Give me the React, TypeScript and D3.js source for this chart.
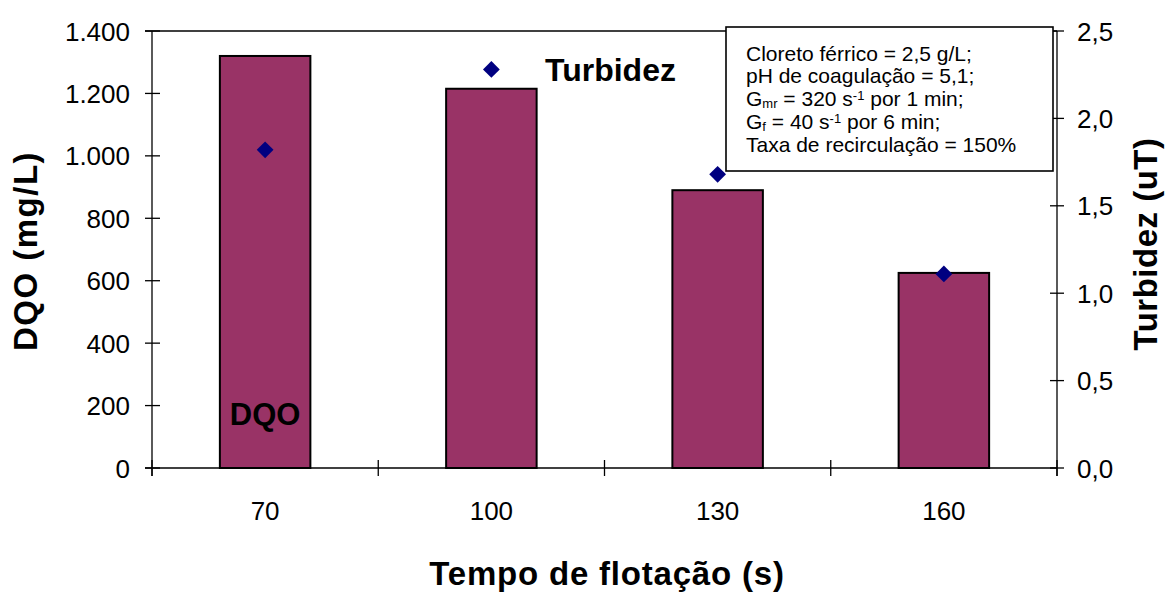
import React from "react";
import * as d3 from "d3";

// Flotation time (s) categories
const categories: string[] = ["70", "100", "130", "160"];
// COD (mg/L) per flotation time — bars
const dqoValues: number[] = [1320, 1215, 890, 625];
// Turbidity (uT) per flotation time — diamonds
const turbidezValues: number[] = [1.82, 2.28, 1.68, 1.11];
// Axis ticks
const leftTicks: number[] = [0, 200, 400, 600, 800, 1000, 1200, 1400];
const rightTicks: number[] = [0, 0.5, 1.0, 1.5, 2.0, 2.5];

const W = 1171;
const H = 592;
const plot = { left: 152, right: 1057, top: 31, bottom: 468 };
const FONT = "'Liberation Sans', Arial, Helvetica, sans-serif";

const fmtLeft = (v: number) =>
  v >= 1000 ? `${Math.floor(v / 1000)}.${String(v % 1000).padStart(3, "0")}` : String(v);
const fmtRight = (v: number) => v.toFixed(1).replace(".", ",");

export default function App() {
  const x = d3
    .scaleBand<string>()
    .domain(categories)
    .range([plot.left, plot.right])
    .paddingInner(0.6)
    .paddingOuter(0.3);
  const step = (plot.right - plot.left) / categories.length;
  const yL = d3.scaleLinear().domain([0, 1400]).range([plot.bottom, plot.top]);
  const yR = d3.scaleLinear().domain([0, 2.5]).range([plot.bottom, plot.top]);

  const diamond = d3.symbol().type(d3.symbolDiamond2).size(180)();

  const boundaries = d3.range(categories.length + 1).map((i) => plot.left + i * step);

  const legendLines = [
    <tspan key="l1">Cloreto férrico = 2,5 g/L;</tspan>,
    <tspan key="l2">pH de coagulação = 5,1;</tspan>,
    <tspan key="l3">
      G<tspan fontSize={13} dy={2}>mr</tspan>
      <tspan dy={-2}> = 320 s</tspan>
      <tspan fontSize={13} dy={-6}>-1</tspan>
      <tspan dy={6}> por 1 min;</tspan>
    </tspan>,
    <tspan key="l4">
      G<tspan fontSize={13} dy={2}>f</tspan>
      <tspan dy={-2}> = 40 s</tspan>
      <tspan fontSize={13} dy={-6}>-1</tspan>
      <tspan dy={6}> por 6 min;</tspan>
    </tspan>,
    <tspan key="l5">Taxa de recirculação = 150%</tspan>,
  ];

  return (
    <svg
      width={W}
      height={H}
      style={{ position: "absolute", left: 0, top: 0, display: "block", background: "#fff" }}
      fontFamily={FONT}
    >
      <rect x={0} y={0} width={W} height={H} fill="#fff" />

      {/* bars: DQO */}
      {categories.map((c, i) => (
        <rect
          key={c}
          x={x(c)}
          y={yL(dqoValues[i])}
          width={x.bandwidth()}
          height={plot.bottom - yL(dqoValues[i])}
          fill="#993366"
          stroke="#000"
          strokeWidth={2}
        />
      ))}

      {/* plot frame top line */}
      <line x1={145} x2={plot.right} y1={plot.top} y2={plot.top} stroke="#000" strokeWidth={1.3} />

      {/* left axis */}
      <line x1={plot.left} x2={plot.left} y1={plot.top} y2={476} stroke="#000" strokeWidth={1.3} />
      {leftTicks.map((t) => (
        <g key={`l${t}`}>
          <line x1={145} x2={160} y1={yL(t)} y2={yL(t)} stroke="#000" strokeWidth={1.3} />
          <text x={130} y={yL(t) + 9.5} textAnchor="end" fontSize={26} fill="#000">
            {fmtLeft(t)}
          </text>
        </g>
      ))}

      {/* right axis */}
      <line x1={plot.right} x2={plot.right} y1={plot.top} y2={476} stroke="#000" strokeWidth={1.3} />
      {rightTicks.map((t) => (
        <g key={`r${t}`}>
          <line x1={1050} x2={1064} y1={yR(t)} y2={yR(t)} stroke="#000" strokeWidth={1.3} />
          <text x={1077} y={yR(t) + 9.5} textAnchor="start" fontSize={26} fill="#000">
            {fmtRight(t)}
          </text>
        </g>
      ))}

      {/* bottom axis */}
      <line x1={145} x2={plot.right} y1={plot.bottom} y2={plot.bottom} stroke="#000" strokeWidth={1.3} />
      {boundaries.map((b, i) => (
        <line key={`b${i}`} x1={b} x2={b} y1={460} y2={476} stroke="#000" strokeWidth={1.3} />
      ))}
      {categories.map((c) => (
        <text
          key={`x${c}`}
          x={(x(c) as number) + x.bandwidth() / 2}
          y={520}
          textAnchor="middle"
          fontSize={26}
          fill="#000"
        >
          {c}
        </text>
      ))}

      {/* diamonds: Turbidez */}
      {categories.map((c, i) => (
        <path
          key={`d${c}`}
          d={diamond as string}
          transform={`translate(${(x(c) as number) + x.bandwidth() / 2},${yR(turbidezValues[i])})`}
          fill="#000080"
        />
      ))}

      {/* series labels */}
      <text x={(x("70") as number) + x.bandwidth() / 2} y={425} textAnchor="middle" fontSize={31} fontWeight="bold" fill="#000">
        DQO
      </text>
      <text x={545} y={81} fontSize={32} fontWeight="bold" fill="#000">
        Turbidez
      </text>

      {/* conditions box */}
      <rect x={726} y={27} width={327} height={144} fill="#fff" stroke="#000" strokeWidth={1.6} />
      <text fontSize={21} fill="#000">
        {legendLines.map((ln, i) => (
          <tspan key={i} x={746} y={60.7 + i * 22.75}>
            {ln}
          </tspan>
        ))}
      </text>

      {/* axis titles */}
      <text
        transform={`translate(37,251) rotate(-90)`}
        textAnchor="middle"
        fontSize={33}
        fontWeight="bold"
        letterSpacing={1.5}
        fill="#000"
      >
        DQO (mg/L)
      </text>
      <text
        transform={`translate(1157,244) rotate(-90)`}
        textAnchor="middle"
        fontSize={33}
        fontWeight="bold"
        letterSpacing={0.5}
        fill="#000"
      >
        Turbidez (uT)
      </text>
      <text x={607} y={585} textAnchor="middle" fontSize={33} fontWeight="bold" letterSpacing={0.8} fill="#000">
        Tempo de flotação (s)
      </text>
    </svg>
  );
}
